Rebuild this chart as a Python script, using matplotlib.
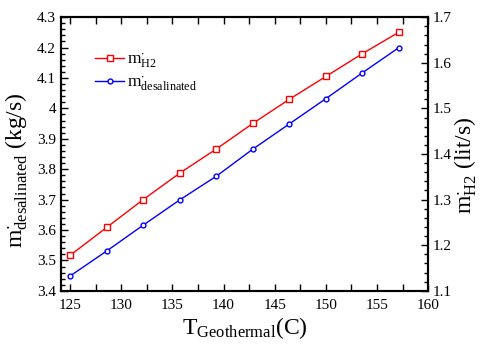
import matplotlib
matplotlib.use("Agg")
import matplotlib.pyplot as plt
from matplotlib.ticker import MultipleLocator, FormatStrFormatter

# Data
t_geo = [125, 128.57, 132.14, 135.71, 139.29, 142.86, 146.43, 150, 153.57, 157.14]
m_h2 = [1.178, 1.239, 1.300, 1.358, 1.411, 1.467, 1.520, 1.570, 1.620, 1.667]          # lit/s, right axis
m_desal = [3.449, 3.531, 3.616, 3.699, 3.777, 3.866, 3.949, 4.032, 4.117, 4.200]      # kg/s, left axis

plt.rcParams['font.family'] = 'Liberation Serif'
plt.rcParams['mathtext.fontset'] = 'custom'
plt.rcParams['mathtext.rm'] = 'Liberation Serif'
plt.rcParams['mathtext.it'] = 'Liberation Serif:italic'

fig = plt.figure(figsize=(4.8, 3.5), dpi=100)
ax = fig.add_axes([0.127, 0.169, 0.765, 0.782])
ax2 = ax.twinx()

l_desal, = ax.plot(t_geo, m_desal, color='#0000ff', lw=1, marker='o', ms=3.5,
                   mfc='white', mec='#0000ff', mew=1,
                   label=r'$\mathregular{m^{\cdot}_{desalinated}}$')
l_h2, = ax2.plot(t_geo, m_h2, color='#ff0000', lw=1, marker='s', ms=5,
                 mfc='white', mec='#ff0000', mew=1,
                 label=r'$\mathregular{m^{\cdot}_{H2}}$')

ax.set_xlim(124.1, 160)
ax.set_ylim(3.4, 4.3)
ax2.set_ylim(1.1, 1.7)

ax.xaxis.set_major_locator(MultipleLocator(5))
ax.xaxis.set_minor_locator(MultipleLocator(2.5))
ax.yaxis.set_major_locator(MultipleLocator(0.1))
ax.yaxis.set_minor_locator(MultipleLocator(0.02))
ax.yaxis.set_major_formatter(FormatStrFormatter('%g'))
ax2.yaxis.set_major_locator(MultipleLocator(0.1))
ax2.yaxis.set_minor_locator(MultipleLocator(0.02))
ax2.yaxis.set_major_formatter(FormatStrFormatter('%g'))

ax.tick_params(axis='x', which='both', direction='in', top=True, labelsize=11, pad=6)
ax.tick_params(axis='x', which='major', length=5, width=1)
ax.tick_params(axis='x', which='minor', length=5, width=1)
ax.tick_params(axis='y', which='both', direction='in', right=False, labelsize=11)
ax.tick_params(axis='y', which='major', length=5, width=1)
ax.tick_params(axis='y', which='minor', length=3, width=1)
ax2.tick_params(axis='y', which='both', direction='in', labelsize=11)
ax2.tick_params(axis='y', which='major', length=5, width=1)
ax2.tick_params(axis='y', which='minor', length=3, width=1)

for a in (ax, ax2):
    for s in a.spines.values():
        s.set_linewidth(1.5)

ax.set_xlabel(r'$\mathregular{T_{Geothermal}}$(C)', fontsize=17, labelpad=2)
ax.set_ylabel(r'$\mathregular{m^{\cdot}_{desalinated}}$ (kg/s)', fontsize=17)
ax.yaxis.set_label_coords(-0.085, 0.44)
ax2.set_ylabel(r'$\mathregular{m^{\cdot}_{H2}}$ (lit/s)', fontsize=17, rotation=90)
ax2.yaxis.set_label_coords(1.065, 0.46)

ax2.legend(handles=[l_h2, l_desal], loc='upper left', bbox_to_anchor=(0.07, 0.905),
           frameon=False, fontsize=12.5, handlelength=1.65, handletextpad=0.15,
           labelspacing=0.25, borderpad=0)

fig.savefig('out.png', dpi=100)
